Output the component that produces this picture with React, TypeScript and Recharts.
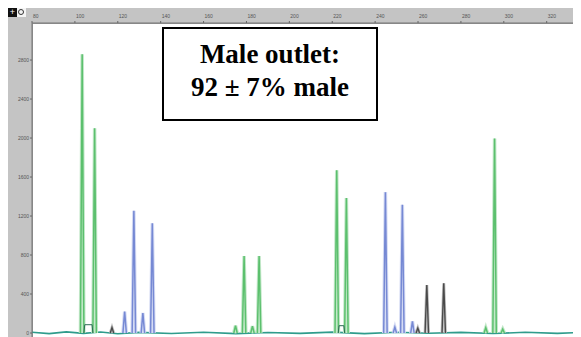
import { ComposedChart, Line, XAxis, YAxis } from 'recharts';

// size (bp) ticks along the top ruler and RFU ticks on the left
const sizeTicks = [80, 100, 120, 140, 160, 180, 200, 220, 240, 260, 280, 300, 320];
const rfuTicks = [0, 400, 800, 1200, 1600, 2000, 2400, 2800];

// peaks: [size, height]
const greenPeaks = [
  [103.4, 2860], [109.2, 2100], [174.9, 75], [178.9, 790], [182.8, 70], [185.9, 790],
  [222.1, 1670], [226.6, 1385], [291.6, 55], [295.7, 1995], [299.5, 40],
];
const bluePeaks = [
  [123.2, 220], [127.5, 1255], [131.7, 205], [136.1, 1125],
  [244.8, 1445], [249.2, 60], [252.7, 1315], [257.4, 120],
];
const grayPeaks = [[117.3, 55], [259.9, 50], [264.1, 492], [272.0, 510]];

// little allele brackets at the foot of two green pairs: [from, to, height]
const brackets = [[104.2, 108.4, 85], [222.8, 225.8, 75]];

const baseline = [
  [80, 8], [88, -6], [96, 12], [104, -4], [112, 10], [120, -8], [130, 6], [145, -5],
  [160, 8], [175, -6], [190, 5], [205, -4], [220, 9], [235, -6], [250, 7], [265, -3],
  [280, 6], [295, -5], [310, 7], [325, -4], [336, 5],
];

const HALF = 0.8;

const toSpikes = (peaks: number[][]) => {
  const pts: { x: number; y: number | null }[] = [];
  peaks.forEach(([s, h]) => {
    pts.push({ x: s - HALF, y: 0 }, { x: s, y: h }, { x: s + HALF, y: 0 }, { x: s + HALF + 0.01, y: null });
  });
  return pts;
};

const toBrackets = (list: number[][]) => {
  const pts: { x: number; y: number | null }[] = [];
  list.forEach(([a, b, h]) => {
    pts.push({ x: a, y: 0 }, { x: a + 0.4, y: h }, { x: b - 0.4, y: h }, { x: b, y: 0 }, { x: b + 0.01, y: null });
  });
  return pts;
};

const greenData = toSpikes(greenPeaks);
const blueData = toSpikes(bluePeaks);
const grayData = toSpikes(grayPeaks);
const bracketData = toBrackets(brackets);
const baseData = baseline.map(([x, y]) => ({ x, y }));

const W = 573;
const H = 329;
const BAND_TOP = 15;
const BAND_LEFT = 24;

const TopTick = (props: any) => {
  const { x, y, payload } = props;
  return (
    <text x={x + 1} y={y - 1} fontSize={5} fill="#555" fontFamily="Arial, sans-serif" textAnchor="start">
      {payload.value}
    </text>
  );
};

export default function App() {
  return (
    <div style={{ position: 'relative', width: W, height: H, background: '#c4c4c4' }}>
      <div
        style={{
          position: 'absolute',
          left: BAND_LEFT,
          top: BAND_TOP,
          right: 0,
          bottom: 0,
          background: '#fff',
          borderTop: '1px solid #999',
          borderLeft: '1px solid #999',
          boxSizing: 'border-box',
        }}
      />
      <div style={{ position: 'absolute', left: 0, top: 0, width: 9, height: 9, background: '#111', color: '#fff', fontSize: 9, lineHeight: '9px', textAlign: 'center', fontFamily: 'Arial' }}>+</div>
      <div style={{ position: 'absolute', left: 9, top: 0, width: 9, height: 9, background: '#f4f4f4' }}>
        <div style={{ position: 'absolute', left: 1, top: 1, width: 4, height: 4, border: '1px solid #333', borderRadius: '50%' }} />
      </div>
      <ComposedChart
        width={W}
        height={H}
        margin={{ top: 0, right: 0, bottom: 0, left: 0 }}
        style={{ position: 'absolute', left: 0, top: 0 }}
      >
        <XAxis
          type="number"
          dataKey="x"
          orientation="top"
          domain={[80, 336]}
          ticks={sizeTicks}
          height={BAND_TOP}
          tickSize={2}
          tick={<TopTick />}
          axisLine={{ stroke: '#777' }}
          tickLine={{ stroke: '#666' }}
          allowDataOverflow
        />
        <YAxis
          type="number"
          domain={[-41, 3180]}
          ticks={rfuTicks}
          width={BAND_LEFT}
          tickSize={2}
          tickMargin={1}
          tick={{ fontSize: 5, fill: '#555', fontFamily: 'Arial, sans-serif' }}
          axisLine={{ stroke: '#777' }}
          tickLine={{ stroke: '#666' }}
          allowDataOverflow
        />
        <Line data={baseData} dataKey="y" stroke="#2f9c8c" strokeWidth={1.6} dot={false} isAnimationActive={false} />
        <Line data={greenData} dataKey="y" stroke="#c4e8ca" strokeWidth={3.5} dot={false} isAnimationActive={false} />
        <Line data={greenData} dataKey="y" stroke="#5cc06e" strokeWidth={1.5} dot={false} isAnimationActive={false} />
        <Line data={blueData} dataKey="y" stroke="#d6dcf4" strokeWidth={3.5} dot={false} isAnimationActive={false} />
        <Line data={blueData} dataKey="y" stroke="#7689d4" strokeWidth={1.5} dot={false} isAnimationActive={false} />
        <Line data={grayData} dataKey="y" stroke="#c0c0c0" strokeWidth={3} dot={false} isAnimationActive={false} />
        <Line data={grayData} dataKey="y" stroke="#4a4a4a" strokeWidth={1.4} dot={false} isAnimationActive={false} />
        <Line data={bracketData} dataKey="y" stroke="#2c6b55" strokeWidth={1} dot={false} isAnimationActive={false} />
      </ComposedChart>
      <div
        style={{
          position: 'absolute',
          left: 154,
          top: 19,
          width: 216,
          height: 94,
          border: '2px solid #000',
          background: '#fff',
          boxSizing: 'border-box',
          paddingTop: 9,
          textAlign: 'center',
          fontFamily: '"Liberation Serif", "Times New Roman", serif',
          fontWeight: 'bold',
          fontSize: 27,
          lineHeight: '33px',
          color: '#000',
        }}
      >
        <div>Male outlet:</div>
        <div>92 ± 7% male</div>
      </div>
    </div>
  );
}
